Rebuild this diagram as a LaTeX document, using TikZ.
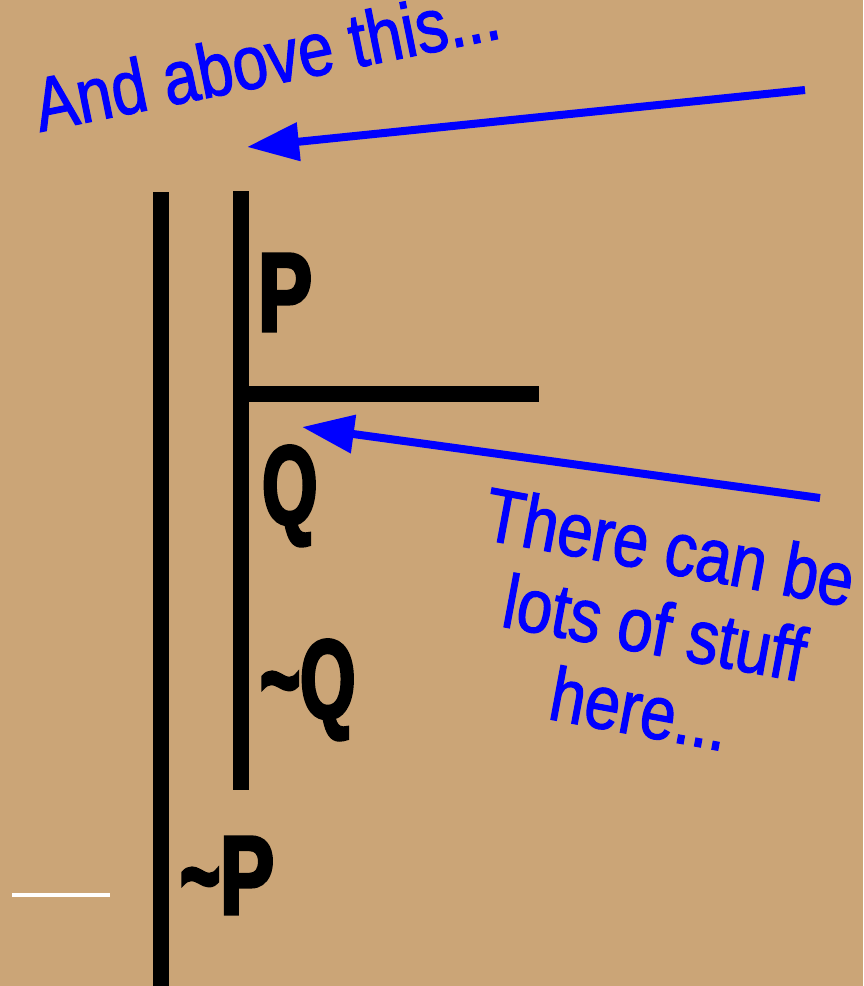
\documentclass[tikz,border=0pt]{standalone}
\usepackage{fontspec}
\usetikzlibrary{arrows.meta}
\newfontfamily\bluefont[FakeStretch=0.835,FakeBold=1.5]{Liberation Sans}
\newfontfamily\labfont[FakeStretch=0.72,FakeBold=3]{Liberation Sans Bold}
\definecolor{bgtan}{RGB}{203,165,119}
\definecolor{pureblue}{RGB}{0,0,255}
\newcommand{\tld}{\scalebox{0.85}[1]{\textasciitilde}}
\tikzset{
  bar/.style={line width=15.5pt, black, line cap=butt},
  bluetext/.style={text=pureblue, inner sep=0pt, font=\bluefont\fontsize{76}{82}\selectfont},
  lab/.style={text=black, inner sep=0pt, font=\labfont\fontsize{112}{120}\selectfont},
  bluearrow/.style={pureblue, line width=8pt, -{Triangle[length=52pt,width=37pt]}},
  whiteline/.style={white, line width=4pt}
}
\begin{document}
\begin{tikzpicture}[x=1pt,y=-1pt]
\fill[bgtan] (0,0) rectangle (863,986);
\useasboundingbox (0,0) rectangle (863,986);
% black bars
\coordinate (L1t) at (161,192);
\coordinate (L1b) at (161,986);
\coordinate (L2t) at (241,191);
\coordinate (L2b) at (241,790);
\coordinate (Hl) at (233,394);
\coordinate (Hr) at (539,394);
\draw[bar] (L1t) -- (L1b);
\draw[bar] (L2t) -- (L2b);
\draw[bar] (Hl) -- (Hr);
% white line
\coordinate (W1) at (12,895);
\coordinate (W2) at (110,895);
\draw[whiteline] (W1) -- (W2);
% labels
\node[lab, anchor=base west] (p) at (258,331) {P};
\node[lab, anchor=base west] (q) at (262,524) {\scalebox{0.88}[1]{Q}};
\node[lab, anchor=base west] (nq) at (260,718) {\tld\scalebox{0.88}[1]{Q}};
\node[lab, anchor=base west] (np) at (180,914) {\tld P};
% blue texts
\node[bluetext, rotate=11.5, anchor=base west] (t1) at (40,132) {And above this...};
\node[bluetext, rotate=-10.5, anchor=base] (t2a) at (665,573) {There can be};
\node[bluetext, rotate=-10.5, anchor=base] (t2b) at (650,654) {lots of stuff};
\node[bluetext, rotate=-10.5, anchor=base] (t2c) at (635,735) {here...};
% arrows
\coordinate (a1s) at (805,90);
\coordinate (a1e) at (247,147);
\coordinate (a2s) at (820,498);
\coordinate (a2e) at (302,427);
\draw[bluearrow] (a1s) -- (a1e);
\draw[bluearrow] (a2s) -- (a2e);
\end{tikzpicture}
\end{document}
